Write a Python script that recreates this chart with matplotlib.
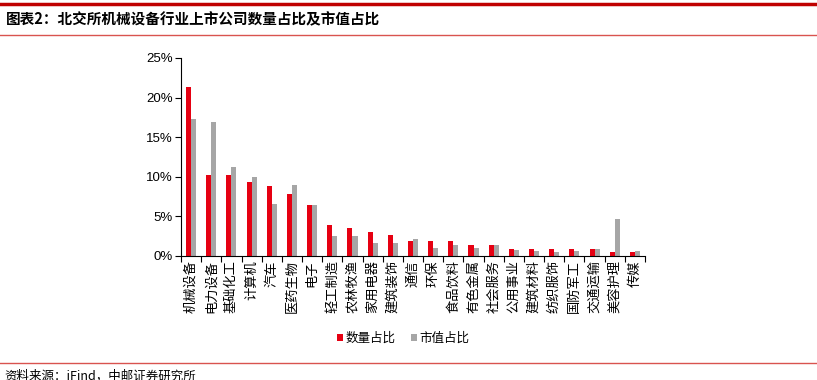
import numpy as np
import matplotlib.pyplot as plt
from matplotlib.ticker import PercentFormatter

plt.rcParams['font.family'] = ['Liberation Sans', 'Noto Sans CJK SC', 'DejaVu Sans']
cjk = ['Noto Sans CJK SC', 'DejaVu Sans']

categories = ['机械设备', '电力设备', '基础化工', '计算机', '汽车', '医药生物', '电子',
              '轻工制造', '农林牧渔', '家用电器', '建筑装饰', '通信', '环保', '食品饮料',
              '有色金属', '社会服务', '公用事业', '建筑材料', '纺织服饰', '国防军工',
              '交通运输', '美容护理', '传媒']
count_share = [21.3, 10.2, 10.2, 9.3, 8.9, 7.8, 6.5, 3.9, 3.5, 3.0, 2.6, 1.9, 1.9, 1.9,
               1.4, 1.4, 0.9, 0.9, 0.9, 0.9, 0.9, 0.5, 0.5]
value_share = [17.3, 16.9, 11.2, 10.0, 6.6, 9.0, 6.5, 2.5, 2.5, 1.7, 1.7, 2.1, 1.0, 1.4,
               1.0, 1.4, 0.7, 0.6, 0.5, 0.6, 0.9, 4.7, 0.6]

red = '#E60012'
grey = '#A6A6A6'

fig = plt.figure(figsize=(8.17, 3.8), dpi=100)
ax = fig.add_axes([181 / 817, 1 - 256 / 380, (645 - 181) / 817, (256 - 58) / 380])

x = np.arange(len(categories))
w = 0.25
ax.bar(x - w / 2, count_share, w, color=red, label='数量占比')
ax.bar(x + w / 2, value_share, w, color=grey, label='市值占比')

ax.set_xlim(-0.5, len(categories) - 0.5)
ax.set_ylim(0, 25)
ax.set_yticks(np.arange(0, 26, 5))
ax.yaxis.set_major_formatter(PercentFormatter(decimals=0))
ax.tick_params(axis='y', labelsize=9.5, length=4, width=0.8, direction='out', pad=2)

# ticks between categories, labels at centres
ax.set_xticks(np.arange(-0.5, len(categories), 1))
ax.set_xticklabels([])
ax.set_xticks(x, minor=True)
ax.set_xticklabels(categories, minor=True, rotation=90, fontsize=9.5, va='top',
                   family=cjk)
ax.tick_params(axis='x', which='major', length=4, width=0.8, direction='out')
ax.tick_params(axis='x', which='minor', length=0, pad=3)

for s in ['top', 'right']:
    ax.spines[s].set_visible(False)
for s in ['left', 'bottom']:
    ax.spines[s].set_linewidth(0.8)

fig.legend(loc='center', bbox_to_anchor=(403 / 817, 1 - 338 / 380), ncol=2, frameon=False,
           prop={'family': cjk, 'size': 9}, handlelength=0.5, handleheight=0.5,
           handletextpad=0.2, columnspacing=1.2)

# header / footer
fig.add_artist(plt.Line2D([0, 1], [1 - 4 / 380] * 2, color='#C00000', lw=2.5))
fig.add_artist(plt.Line2D([0, 1], [1 - 34.5 / 380] * 2, color='#D9534F', lw=1))
fig.text(6 / 817, 1 - 19 / 380, '图表2：北交所机械设备行业上市公司数量占比及市值占比',
         fontsize=10.5, fontweight='bold', va='center', ha='left', family=cjk)
fig.add_artist(plt.Line2D([0, 1], [1 - 363 / 380] * 2, color='#D9534F', lw=1))
fig.text(4 / 817, 1 - 370 / 380, '资料来源：iFind，中邮证券研究所', fontsize=9,
         va='top', ha='left', family=cjk)

fig.savefig('out.png', dpi=100)
